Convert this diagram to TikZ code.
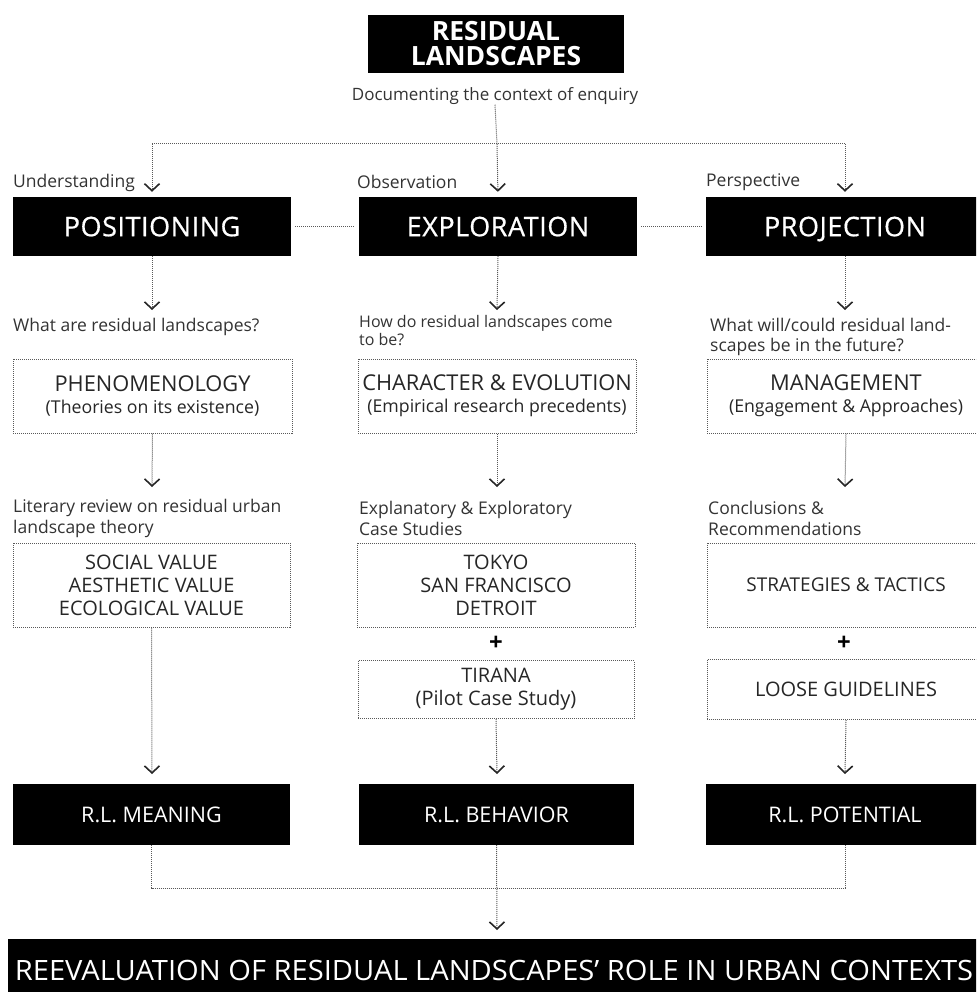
\documentclass[tikz,border=0pt]{standalone}
\usepackage{fontspec}
\setmainfont{Open Sans}
\usetikzlibrary{arrows.meta}

\begin{document}
\begin{tikzpicture}[x=1pt,y=-1pt,
  link/.style={densely dotted, line width=1pt, draw=black!65},
  flow/.style={link, -{Straight Barb[length=7pt,width=15pt,line width=1.6pt,color=black!85]}},
  title/.style={fill=black, text=white, inner sep=0pt, align=center,
    font=\fontsize{26.5}{25}\selectfont\bfseries},
  head/.style={fill=black, text=white, inner sep=0pt, minimum width=278pt,
    minimum height=59pt, text height=19.5pt, text depth=0pt,
    font=\fontsize{27}{30}\selectfont\addfontfeatures{LetterSpace=2, FakeBold=0.6}},
  panel/.style={draw=black!65, densely dotted, line width=1pt, inner sep=0pt,
    text=black!85, align=center, font=\fontsize{20}{23}\selectfont},
  cue/.style={anchor=west, text=black!80, align=left, inner sep=0pt,
    font=\fontsize{17.5}{21}\selectfont},
  plus/.style={inner sep=0pt, text=black, font=\fontsize{24}{24}\selectfont\bfseries},
  result/.style={fill=black, text=white, inner sep=0pt, minimum height=61pt,
    text height=15.5pt, text depth=0pt, font=\fontsize{21.5}{25}\selectfont},
]
\useasboundingbox (0,0) rectangle (976,992);
\clip (0,0) rectangle (976,992);

% title and subtitle
\node[title, minimum width=256pt, minimum height=58pt] (top) at (496,44) {RESIDUAL\\LANDSCAPES};
\node[inner sep=0pt, text=black!80, font=\fontsize{17}{20}\selectfont] (doc) at (495,96) {Documenting the context of enquiry};

% distribution to the three main headings
\coordinate (hub) at (497,144);
\coordinate (hubL) at (152,144);
\coordinate (hubR) at (845,144);

\node[head] (pos) at (152,226.5) {POSITIONING};
\node[head] (exp) at (498,226.5) {EXPLORATION};
\node[head] (pro) at (845,226.5) {PROJECTION};

\node[cue] (und) at (13,183) {Understanding};
\node[cue] (obs) at (357,182) {Observation};
\node[cue] (per) at (706,182) {Perspective};

\draw[link] (doc.south) -- (hub);
\draw[link] (hubL) -- (hubR);
\draw[flow, shorten >=5pt] (hubL) -- (pos.north);
\draw[flow, shorten >=5pt] (hub) -- (exp.north);
\draw[flow, shorten >=5pt] (hubR) -- (pro.north);

\draw[link, shorten <=4pt, shorten >=4pt] (pos.east) -- (exp.west);
\draw[link, shorten <=4pt, shorten >=4pt] (exp.east) -- (pro.west);

% second level: questions and theory boxes
\node[cue] (q1) at (13,327) {What are residual landscapes?};
\node[cue, font=\fontsize{16}{18}\selectfont] (q2) at (359,330.5) {How do residual landscapes come\\to be?};
\node[cue, font=\fontsize{17.5}{20}\selectfont] (q3) at (710,337) {What will/could residual land-\\scapes be in the future?};

\coordinate (a1) at (152,310);
\coordinate (b1) at (497,310);
\coordinate (c1) at (845,310);
\draw[flow] (pos.south) -- (a1);
\draw[flow] (exp.south) -- (b1);
\draw[flow] (pro.south) -- (c1);

\node[panel, minimum width=279pt, minimum height=74pt] (phen) at (152.5,396) {\fontsize{21.8}{21}\selectfont PHENOMENOLOGY\\[-1pt]\fontsize{17.7}{21}\selectfont(Theories on its existence)};
\node[panel, minimum width=278pt, minimum height=74pt] (char) at (497,396) {\fontsize{21.8}{21}\selectfont CHARACTER \& EVOLUTION\\[-1pt]\fontsize{17.7}{21}\selectfont(Empirical research precedents)};
\node[panel, minimum width=278pt, minimum height=74pt] (man) at (846,396) {\fontsize{21.8}{21}\selectfont MANAGEMENT\\[-1pt]\fontsize{17.7}{21}\selectfont(Engagement \& Approaches)};

\coordinate (a2) at (152,487);
\coordinate (b2) at (497,487);
\coordinate (c2) at (845,487);
\draw[flow] (phen.south) -- (a2);
\draw[flow] (char.south) -- (b2);
\draw[flow] (man.south) -- (c2);

% third level: research material
\node[cue] (l1) at (13,518.5) {Literary review on residual urban\\landscape theory};
\node[cue] (l2) at (359,518.5) {Explanatory \& Exploratory\\Case Studies};
\node[cue] (l3) at (708,518.5) {Conclusions \&\\Recommendations};

\node[panel, minimum width=277pt, minimum height=84pt] (soc) at (151.5,585) {SOCIAL VALUE\\AESTHETIC VALUE\\ECOLOGICAL VALUE};
\node[panel, minimum width=278pt, minimum height=84pt] (tok) at (496,585) {TOKYO\\SAN FRANCISCO\\DETROIT};
\node[panel, minimum width=278pt, minimum height=84pt, font=\fontsize{19}{23}\selectfont] (str) at (846,585) {STRATEGIES \& TACTICS};

\node[plus] (p1) at (496,643) {+};
\node[plus] (p2) at (844,643) {+};

\node[panel, minimum width=276pt, minimum height=58pt] (tir) at (496,689.5) {TIRANA\\(Pilot Case Study)};
\node[panel, minimum width=278pt, minimum height=60pt] (loo) at (846,689.5) {LOOSE GUIDELINES};

\coordinate (a3) at (152,774);
\coordinate (b3) at (497,774);
\coordinate (c3) at (845,774);
\draw[flow] (soc.south) -- (a3);
\draw[flow] (tir.south) -- (b3);
\draw[flow] (loo.south) -- (c3);

% outcomes
\node[result, minimum width=277pt] (rlm) at (151.5,814.5) {R.L. MEANING};
\node[result, minimum width=275pt] (rlb) at (496.5,814.5) {R.L. BEHAVIOR};
\node[result, minimum width=278pt] (rlp) at (845,814.5) {R.L. POTENTIAL};

\coordinate (join) at (497,888);
\coordinate (d1) at (497,930);
\draw[link] (rlm.south) |- (join) -| (rlp.south);
\draw[flow] (rlb.south) -- (d1);

\node[fill=black, inner sep=0pt, minimum width=982pt, minimum height=62pt] (re) at (499,970) {};
\node[inner sep=0pt, text=white, font=\fontsize{28}{30}\selectfont] (ret) at (494,970) {\scalebox{1.04}[1]{REEVALUATION OF RESIDUAL LANDSCAPES’ ROLE IN URBAN CONTEXTS}};
\end{tikzpicture}
\end{document}
